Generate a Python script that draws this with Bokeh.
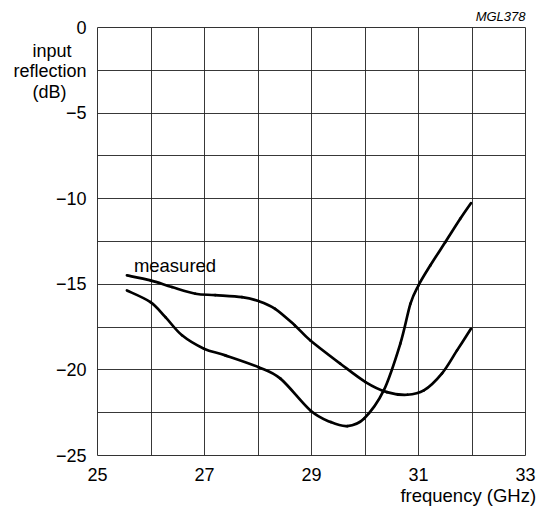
from bokeh.plotting import figure
from bokeh.models import FixedTicker, CustomJSTickFormatter, Label, LinearAxis, Title
from bokeh.embed import file_html
from bokeh.resources import INLINE

# ---- data ----
freq_measured = [25.55, 25.99, 26.39, 26.83, 27.2, 27.7, 28.01, 28.32, 28.69, 28.98,
                 29.54, 30.01, 30.41, 30.79, 31.10, 31.44, 31.72, 31.98]
refl_measured = [-14.48, -14.77, -15.16, -15.55, -15.63, -15.75, -15.98, -16.43, -17.4, -18.28,
                 -19.64, -20.71, -21.3, -21.45, -21.2, -20.2, -18.86, -17.6]

freq_second = [25.55, 25.99, 26.27, 26.58, 26.99, 27.39, 28.01, 28.42, 28.98, 29.36,
               29.67, 29.98, 30.35, 30.66, 30.85, 31.0, 31.22, 31.5, 31.78, 31.98]
refl_second = [-15.36, -16.04, -16.92, -17.98, -18.76, -19.15, -19.84, -20.51, -22.37, -23.05,
               -23.28, -22.85, -21.2, -18.47, -16.13, -15.06, -13.9, -12.54, -11.17, -10.26]

x_ticks = [25, 27, 29, 31, 33]
y_ticks = [-25, -20, -15, -10, -5, 0]
x_grid = [25, 26, 27, 28, 29, 30, 31, 32, 33]
y_grid = [-25, -22.5, -20, -17.5, -15, -12.5, -10, -7.5, -5, -2.5, 0]

y_title_lines = ["input\u00a0\u00a0\u00a0", "reflection", "(dB)\u00a0\u00a0\u00a0\u00a0"]
y_title_pos = [-1.38, -2.56, -3.74]
x_title = "frequency (GHz)"
x_title_pos = 31.93
curve_label = "measured"
figure_code = "MGL378"

FONT = "Liberation Sans"

p = figure(width=539, height=511, x_range=(25, 33), y_range=(-25, 0), title=None,
           output_backend="svg", toolbar_location=None,
           min_border_left=97, min_border_right=14, min_border_top=27, min_border_bottom=56)
p.background_fill_color = "white"
p.border_fill_color = "white"
p.outline_line_color = "#333333"
p.outline_line_width = 1

p.xaxis.ticker = FixedTicker(ticks=x_ticks)
p.yaxis.ticker = FixedTicker(ticks=y_ticks + y_title_pos)
p.yaxis.formatter = CustomJSTickFormatter(
    args=dict(vals=y_title_pos, texts=y_title_lines),
    code="""
const i = vals.indexOf(tick);
if (i >= 0) return texts[i];
return tick < 0 ? '\\u2212' + Math.abs(tick) : String(tick);
""")

x_title_axis = LinearAxis(ticker=FixedTicker(ticks=[x_title_pos]),
                          formatter=CustomJSTickFormatter(args=dict(t=x_title), code="return t;"))
p.add_layout(x_title_axis, "below")

for ax in (p.xaxis[0], p.yaxis[0], x_title_axis):
    ax.axis_line_color = None
    ax.major_tick_line_color = None
    ax.minor_tick_line_color = None
    ax.major_tick_in = 0
    ax.major_tick_out = 0
    ax.major_label_text_font = FONT
    ax.major_label_text_font_size = "18px"
    ax.major_label_text_color = "black"
x_title_axis.major_label_text_font_size = "18.5px"
p.xaxis[0].major_label_standoff = 12
p.yaxis[0].major_label_standoff = 11
x_title_axis.major_label_standoff = 1

p.add_layout(Title(text=figure_code, align="right", text_font=FONT, text_font_size="13px",
                   text_font_style="italic", text_color="black", standoff=7), "above")

p.xgrid.ticker = FixedTicker(ticks=x_grid)
p.ygrid.ticker = FixedTicker(ticks=y_grid)
for g in (p.xgrid, p.ygrid):
    g.grid_line_color = "#222222"
    g.grid_line_width = 1
    g.grid_line_alpha = 0.9


def smooth(xs, ys):
    # Catmull-Rom segments drawn as cubic Bezier curves through the read points
    n = len(xs)
    out = {k: [] for k in ("x0", "y0", "x1", "y1", "cx0", "cy0", "cx1", "cy1")}
    for i in range(n - 1):
        a = max(i - 1, 0)
        d = min(i + 2, n - 1)
        out["x0"].append(xs[i]); out["y0"].append(ys[i])
        out["x1"].append(xs[i + 1]); out["y1"].append(ys[i + 1])
        out["cx0"].append(xs[i] + (xs[i + 1] - xs[a]) / 6)
        out["cy0"].append(ys[i] + (ys[i + 1] - ys[a]) / 6)
        out["cx1"].append(xs[i + 1] - (xs[d] - xs[i]) / 6)
        out["cy1"].append(ys[i + 1] - (ys[d] - ys[i]) / 6)
    return out


for xs, ys in ((freq_measured, refl_measured), (freq_second, refl_second)):
    p.bezier(source=smooth(xs, ys), x0="x0", y0="y0", x1="x1", y1="y1",
             cx0="cx0", cy0="cy0", cx1="cx1", cy1="cy1",
             line_color="black", line_width=2.7, line_cap="round")

p.add_layout(Label(x=25.68, y=-13.93, text=curve_label, text_align="left", text_baseline="alphabetic",
                   text_font=FONT, text_font_size="18.5px", text_color="black"))

open("out.html", "w").write(file_html(p, INLINE))
